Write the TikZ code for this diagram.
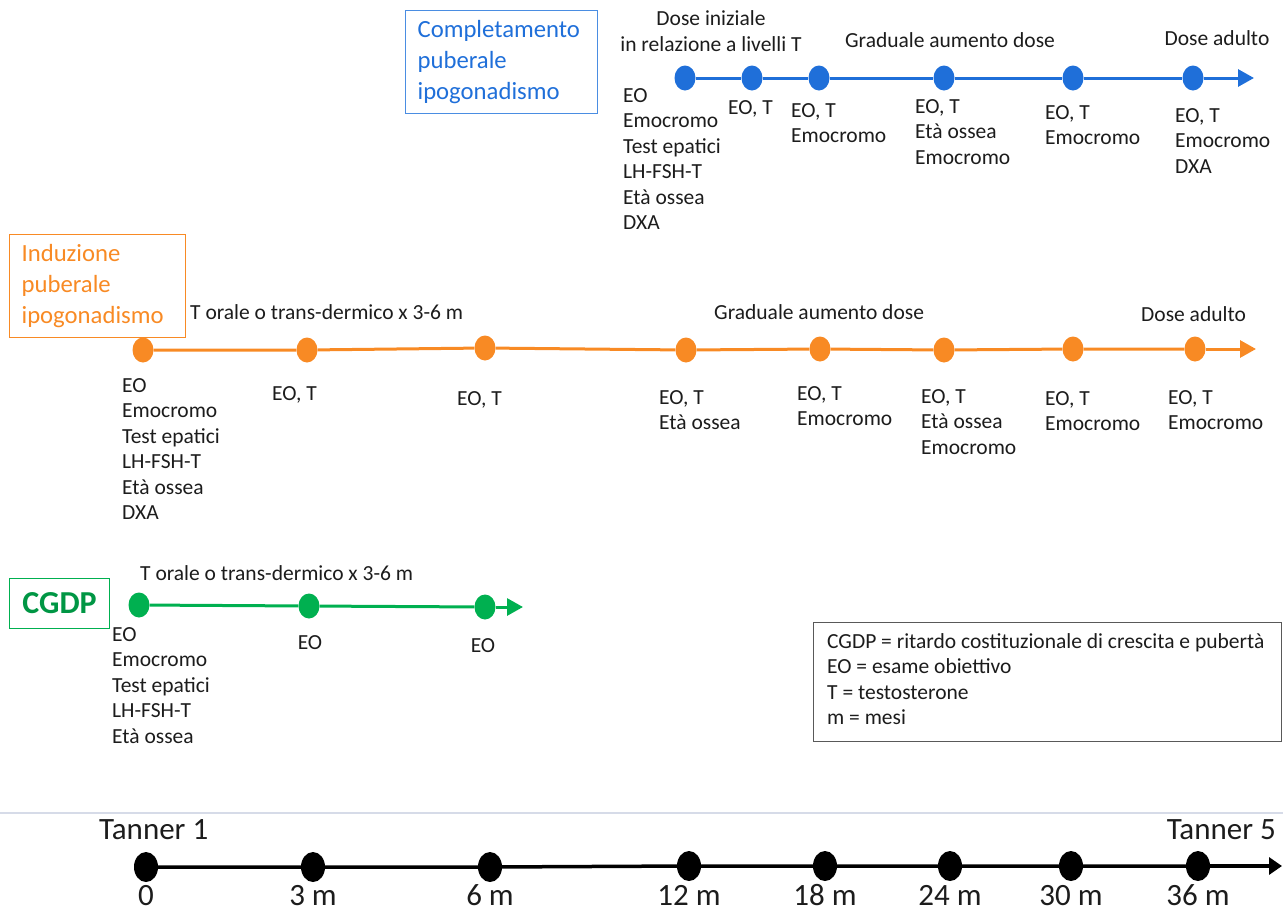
\documentclass[tikz,border=0pt]{standalone}
\usepackage{fontspec}
\setmainfont{Carlito}
\usetikzlibrary{arrows.meta,shapes.geometric}

\definecolor{blu}{RGB}{31,111,217}
\definecolor{blubox}{RGB}{74,141,226}
\definecolor{arancio}{RGB}{248,138,36}
\definecolor{verde}{RGB}{0,176,80}
\definecolor{verdescuro}{RGB}{0,150,68}
\definecolor{testo}{RGB}{28,28,28}
\definecolor{separa}{RGB}{214,219,232}

\tikzset{
  pallino/.style={ellipse, fill=#1, minimum width=21pt, minimum height=25pt, inner sep=0pt},
  pallinonero/.style={ellipse, fill=black, minimum width=24pt, minimum height=30pt, inner sep=0pt},
  linea/.style={#1, line width=3pt},
  txt/.style={anchor=base west, align=left, inner sep=0pt, text=testo,
    font=\fontsize{21.5}{25.5}\selectfont},
  lista/.style={txt, anchor=north west},
  titolo/.style={draw=#1, line width=1.2pt, anchor=north west, align=left,
    inner xsep=12pt, inner ysep=0pt, font=\fontsize{24.7}{31}\selectfont},
  asse/.style={anchor=base, inner sep=0pt, text=testo, font=\fontsize{31}{36}\selectfont}
}

\begin{document}
\begin{tikzpicture}[x=1pt,y=-1pt]
    \useasboundingbox (0,0) rectangle (1283,911);

    % Completamento puberale (blu)
    \node[titolo=blubox, text=blu, text width=168pt, minimum width=192pt, minimum height=103pt]
        (boxB) at (405,10) {Completamento\\puberale\\ipogonadismo};
    \node[pallino=blu] (b1) at (685,78) {};
    \node[pallino=blu] (b2) at (752,78) {};
    \node[pallino=blu] (b3) at (819,78) {};
    \node[pallino=blu] (b4) at (944,78) {};
    \node[pallino=blu] (b5) at (1073,78) {};
    \node[pallino=blu] (b6) at (1193,78) {};
    \coordinate (bEnd) at (1254,78);
    \draw[linea=blu] (b1) -- (b2) -- (b3) -- (b4) -- (b5) -- (b6);
    \draw[linea=blu, -{Triangle[length=16pt,width=17pt]}] (b6) -- (bEnd);

    \node[lista, anchor=north, align=center] (bDose) at (711,10.5) {Dose iniziale\\in relazione a livelli T};
    \node[txt, anchor=base] (bGrad) at (950,47) {Graduale aumento dose};
    \node[txt, anchor=base] (bAdulto) at (1217,45) {Dose adulto};
    \node[lista] (bL1) at (623,88) {EO\\Emocromo\\Test epatici\\LH-FSH-T\\Età ossea\\DXA};
    \node[lista] (bL2) at (728,100) {EO, T};
    \node[lista] (bL3) at (791,103) {EO, T\\Emocromo};
    \node[lista] (bL4) at (915,99) {EO, T\\Età ossea\\Emocromo};
    \node[lista] (bL5) at (1045,105) {EO, T\\Emocromo};
    \node[lista] (bL6) at (1175,108) {EO, T\\Emocromo\\DXA};

    % Induzione puberale (arancio)
    \node[titolo=arancio, text=arancio, text width=152pt, minimum width=176pt, minimum height=103pt]
        (boxO) at (9,234) {Induzione\\puberale\\ipogonadismo};
    \node[pallino=arancio] (o1) at (143,350) {};
    \node[pallino=arancio] (o2) at (307,350) {};
    \node[pallino=arancio] (o3) at (485,348) {};
    \node[pallino=arancio] (o4) at (686,350) {};
    \node[pallino=arancio] (o5) at (820,349) {};
    \node[pallino=arancio] (o6) at (944,350) {};
    \node[pallino=arancio] (o7) at (1073,349) {};
    \node[pallino=arancio] (o8) at (1195,349) {};
    \coordinate (oEnd) at (1256,349);
    \draw[linea=arancio] (o1) -- (o2) -- (o3) -- (o4) -- (o5) -- (o6) -- (o7) -- (o8);
    \draw[linea=arancio, -{Triangle[length=16pt,width=17pt]}] (o8) -- (oEnd);

    \node[txt] (oOrale) at (190,319) {T orale o trans-dermico x 3-6 m};
    \node[txt] (oGrad) at (714,319) {Graduale aumento dose};
    \node[txt] (oAdulto) at (1141,321) {Dose adulto};
    \node[lista] (oL1) at (122,378) {EO\\Emocromo\\Test epatici\\LH-FSH-T\\Età ossea\\DXA};
    \node[lista] (oL2) at (272,386) {EO, T};
    \node[lista] (oL3) at (457,391) {EO, T};
    \node[lista] (oL4) at (659,390) {EO, T\\Età ossea};
    \node[lista] (oL5) at (797,386) {EO, T\\Emocromo};
    \node[lista] (oL6) at (921,389) {EO, T\\Età ossea\\Emocromo};
    \node[lista] (oL7) at (1045,391) {EO, T\\Emocromo};
    \node[lista] (oL8) at (1168,390) {EO, T\\Emocromo};

    % CGDP (verde)
    \node[draw=verde, line width=1.2pt, anchor=north west, minimum width=100pt, minimum height=50pt,
        text=verdescuro, font=\fontsize{32}{36}\selectfont\bfseries] (boxG) at (9,578) {CGDP};
    \node[pallino=verde] (g1) at (139,605) {};
    \node[pallino=verde] (g2) at (309,606) {};
    \node[pallino=verde] (g3) at (485,607) {};
    \coordinate (gEnd) at (523,607);
    \draw[linea=verde] (g1) -- (g2) -- (g3);
    \draw[linea=verde, -{Triangle[length=16pt,width=17pt]}] (g3) -- (gEnd);

    \node[txt] (gOrale) at (140,580) {T orale o trans-dermico x 3-6 m};
    \node[lista] (gL1) at (112,627) {EO\\Emocromo\\Test epatici\\LH-FSH-T\\Età ossea};
    \node[txt, anchor=base] (gL2) at (310,649) {EO};
    \node[txt, anchor=base] (gL3) at (483,652) {EO};

    % legenda
    \node[draw=black!65, line width=1.2pt, anchor=north west, minimum width=468pt,
        minimum height=119pt] (legenda) at (813,622) {};
    \node[lista] (legendaTxt) at (827,633)
        {CGDP = ritardo costituzionale di crescita e pubertà\\EO = esame obiettivo\\T = testosterone\\m = mesi};

    % asse dei tempi
    \draw[separa, line width=2pt] (0,813) -- (1283,813);
    \node[pallinonero] (t1) at (146,867) {};
    \node[pallinonero] (t2) at (313,867) {};
    \node[pallinonero] (t3) at (490,867) {};
    \node[pallinonero] (t4) at (689,866) {};
    \node[pallinonero] (t5) at (825,866) {};
    \node[pallinonero] (t6) at (950,866) {};
    \node[pallinonero] (t7) at (1071,866) {};
    \node[pallinonero] (t8) at (1198,866) {};
    \coordinate (tEnd) at (1282,866);
    \draw[line width=3.5pt] (t1) -- (t2) -- (t3) -- (t4) -- (t5) -- (t6) -- (t7) -- (t8);
    \draw[line width=3.5pt, -{Triangle[length=13pt,width=17pt]}] (t8) -- (tEnd);

    \node[asse, anchor=base west] (tanner1) at (99,839) {Tanner 1};
    \node[asse, anchor=base east] (tanner5) at (1276,839) {Tanner 5};
    \node[asse] (m0) at (146,905) {0};
    \node[asse] (m3) at (313,905) {3 m};
    \node[asse] (m6) at (490,905) {6 m};
    \node[asse] (m12) at (689,905) {12 m};
    \node[asse] (m18) at (825,905) {18 m};
    \node[asse] (m24) at (950,905) {24 m};
    \node[asse] (m30) at (1071,905) {30 m};
    \node[asse] (m36) at (1198,905) {36 m};
\end{tikzpicture}
\end{document}
